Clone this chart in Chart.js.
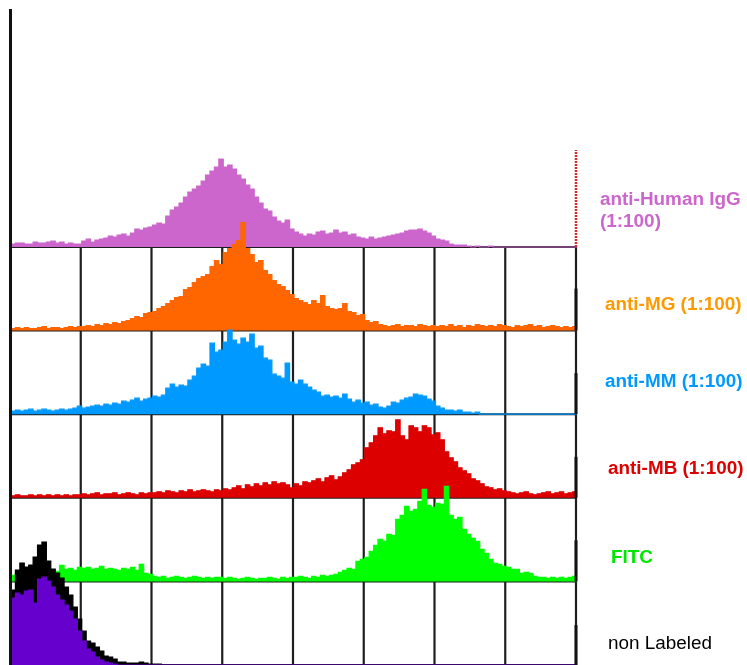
<!DOCTYPE html>
<html>
<head>
<meta charset="utf-8">
<script src="https://cdn.jsdelivr.net/npm/chart.js@4/dist/chart.umd.min.js"></script>
<style>
  html, body { margin: 0; padding: 0; background: #ffffff; }
  canvas { display: block; }
</style>
</head>
<body>
<canvas id="overlay" width="747" height="665"></canvas>
<script>
// Fluorescence channels (256) binned by 2 -> 128 bins per histogram
const CHANNELS = 256;
const BIN = 2;
const gridChannels = [0, 32, 64, 96, 128, 160, 192, 224, 256];

const rowLabels = [
  ['anti-Human IgG', '(1:100)'],
  ['anti-MG (1:100)'],
  ['anti-MM (1:100)'],
  ['anti-MB (1:100)'],
  ['FITC'],
  ['non Labeled']
];

// event counts per bin
const antiHumanIgG = [
  3, 4, 4, 3, 3, 5, 4, 4, 5, 6, 4, 5, 3, 4, 3, 3,
  6, 8, 5, 7, 8, 9, 11, 10, 12, 13, 11, 14, 18, 17, 19, 20,
  22, 24, 23, 31, 37, 40, 44, 50, 55, 58, 61, 66, 72, 76, 80, 88,
  80, 82, 78, 72, 68, 62, 58, 50, 44, 38, 36, 30, 26, 24, 27, 18,
  15, 13, 11, 13, 12, 15, 16, 13, 14, 17, 14, 15, 12, 13, 10, 9,
  8, 10, 8, 9, 10, 11, 12, 13, 14, 16, 17, 17, 18, 16, 14, 11,
  8, 7, 6, 3, 2, 2, 2, 1, 0, 1, 0, 0, 1, 0, 0, 0,
  0, 0, 0, 0, 0, 0, 0, 0, 0, 0, 0, 0, 0, 0, 0, 0
];
const antiMG = [
  2, 3, 2, 3, 2, 2, 3, 4, 2, 3, 3, 2, 3, 4, 3, 4,
  4, 5, 4, 6, 5, 7, 6, 8, 7, 9, 10, 12, 14, 13, 17, 18,
  19, 22, 24, 27, 30, 33, 34, 41, 43, 48, 52, 54, 56, 64, 70, 66,
  78, 82, 86, 90, 108, 82, 76, 68, 70, 60, 56, 50, 46, 44, 40, 36,
  32, 30, 28, 26, 30, 27, 35, 24, 22, 21, 22, 27, 19, 18, 15, 16,
  10, 8, 9, 6, 5, 4, 5, 6, 4, 5, 5, 4, 6, 5, 4, 5,
  4, 5, 4, 6, 4, 5, 3, 5, 4, 6, 5, 4, 5, 4, 6, 5,
  4, 3, 5, 4, 5, 6, 4, 5, 3, 4, 5, 4, 3, 4, 3, 4
];
const antiMM = [
  3, 4, 3, 4, 5, 3, 4, 5, 4, 3, 4, 5, 4, 5, 6, 8,
  6, 7, 8, 9, 8, 10, 9, 11, 10, 13, 12, 14, 16, 13, 15, 16,
  18, 17, 19, 26, 30, 27, 29, 28, 34, 38, 46, 50, 48, 71, 62, 64,
  72, 84, 74, 70, 76, 72, 80, 66, 68, 56, 54, 40, 38, 36, 51, 32,
  30, 34, 30, 27, 24, 22, 18, 19, 17, 18, 16, 20, 15, 12, 14, 11,
  12, 9, 10, 7, 6, 8, 12, 11, 14, 16, 17, 20, 19, 18, 15, 13,
  8, 6, 4, 4, 3, 4, 2, 2, 1, 2, 0, 0, 0, 0, 0, 0,
  0, 0, 0, 0, 0, 0, 0, 0, 0, 0, 0, 0, 0, 0, 0, 0
];
const antiMB = [
  2, 3, 2, 2, 3, 2, 3, 2, 3, 2, 3, 2, 3, 2, 3, 3,
  4, 3, 4, 5, 3, 4, 4, 5, 3, 4, 5, 4, 3, 5, 4, 5,
  5, 6, 5, 7, 6, 5, 7, 6, 8, 6, 7, 8, 7, 6, 8, 7,
  9, 8, 10, 12, 9, 13, 11, 14, 12, 15, 13, 16, 14, 15, 13, 10,
  14, 12, 16, 15, 17, 19, 16, 20, 22, 18, 21, 25, 28, 33, 35, 38,
  50, 55, 62, 70, 64, 67, 66, 78, 62, 58, 72, 70, 66, 72, 70, 63,
  65, 58, 46, 40, 36, 30, 27, 24, 19, 17, 14, 11, 10, 8, 9, 7,
  6, 5, 4, 5, 6, 4, 3, 4, 5, 6, 4, 5, 6, 4, 5, 6
];
const fitc = [
  6, 8, 5, 7, 7, 9, 8, 10, 9, 11, 10, 16, 12, 13, 11, 14,
  13, 14, 12, 13, 15, 12, 13, 12, 11, 13, 12, 14, 11, 17, 8, 7,
  5, 4, 5, 3, 4, 5, 4, 3, 4, 5, 4, 3, 4, 3, 4, 4,
  3, 4, 3, 2, 3, 4, 3, 2, 3, 3, 4, 3, 2, 4, 3, 4,
  4, 5, 4, 3, 5, 4, 6, 5, 6, 7, 9, 11, 13, 12, 20, 22,
  24, 30, 36, 42, 40, 47, 46, 62, 66, 75, 70, 72, 80, 92, 76, 74,
  78, 77, 95, 66, 62, 64, 52, 47, 43, 40, 32, 28, 22, 18, 17, 15,
  14, 12, 12, 8, 9, 8, 5, 4, 4, 3, 4, 3, 4, 3, 4, 5
];
const nonLabeledBlack = [
  75, 95, 102, 98, 100, 108, 120, 123, 104, 96, 92, 87, 78, 70, 58, 46,
  34, 24, 22, 18, 14, 9, 8, 6, 3, 3, 2, 2, 2, 3, 2, 1,
  1, 1, 0, 0, 0, 0, 0, 0, 0, 0, 0, 0, 0, 0, 0, 0,
  0, 0, 0, 0, 0, 0, 0, 0, 0, 0, 0, 0, 0, 0, 0, 0,
  0, 0, 0, 0, 0, 0, 0, 0, 0, 0, 0, 0, 0, 0, 0, 0,
  0, 0, 0, 0, 0, 0, 0, 0, 0, 0, 0, 0, 0, 0, 0, 0,
  0, 0, 0, 0, 0, 0, 0, 0, 0, 0, 0, 0, 0, 0, 0, 0,
  0, 0, 0, 0, 0, 0, 0, 0, 0, 0, 0, 0, 0, 0, 0, 0
];
const nonLabeledViolet = [
  67, 72, 70, 74, 75, 62, 86, 88, 84, 78, 70, 65, 60, 54, 46, 34,
  24, 16, 13, 8, 5, 3, 2, 1, 0, 0, 0, 0, 0, 0, 0, 0,
  0, 0, 0, 0, 0, 0, 0, 0, 0, 0, 0, 0, 0, 0, 0, 0,
  0, 0, 0, 0, 0, 0, 0, 0, 0, 0, 0, 0, 0, 0, 0, 0,
  0, 0, 0, 0, 0, 0, 0, 0, 0, 0, 0, 0, 0, 0, 0, 0,
  0, 0, 0, 0, 0, 0, 0, 0, 0, 0, 0, 0, 0, 0, 0, 0,
  0, 0, 0, 0, 0, 0, 0, 0, 0, 0, 0, 0, 0, 0, 0, 0,
  0, 0, 0, 0, 0, 0, 0, 0, 0, 0, 0, 0, 0, 0, 0, 0
];
// events piled up in the top channel of each row
const saturated = [97, 42, 41, 41, 41, 40];

// ---- styling ----
const rowAxes = ['yIgG', 'yMG', 'yMM', 'yMB', 'yFITC', 'yNL'];
const rowMax = [238, 83.6, 83.6, 83.6, 83.6, 83.6];
const fillColors = ['#cc66cc', '#ff6600', '#0099ff', '#dd0000', '#00ff00', '#6600cc'];
const labelColors = ['#cc66cc', '#ff9900', '#0099ff', '#dd0000', '#00e600', '#000000'];
const labelDx = [23, 28, 28, 31, 34, 31];
const labelLift = [36, 25, 32, 29, 23, 21];

const toPoints = arr => arr.map((v, i) => ({ x: i * BIN, y: v }))
  .concat([{ x: CHANNELS, y: arr[arr.length - 1] }]);

function hist(label, data, axis, color, border, order) {
  return {
    label, data: toPoints(data), yAxisID: axis, order,
    stepped: true, fill: 'origin', clip: false,
    backgroundColor: color, borderColor: border, borderWidth: 1.2,
    pointRadius: 0, tension: 0
  };
}

const datasets = [
  hist('non Labeled', nonLabeledViolet, 'yNL', '#6600cc', '#6600cc', 1),
  hist('non Labeled (total)', nonLabeledBlack, 'yNL', '#000000', '#000000', 2),
  hist('FITC', fitc, 'yFITC', fillColors[4], fillColors[4], 3),
  hist('anti-MB (1:100)', antiMB, 'yMB', fillColors[3], fillColors[3], 4),
  hist('anti-MM (1:100)', antiMM, 'yMM', fillColors[2], fillColors[2], 5),
  hist('anti-MG (1:100)', antiMG, 'yMG', fillColors[1], fillColors[1], 6),
  hist('anti-Human IgG (1:100)', antiHumanIgG, 'yIgG', fillColors[0], fillColors[0], 7)
];

const scales = {
  x: { type: 'linear', min: 0, max: CHANNELS, display: false }
};
rowAxes.forEach((id, i) => {
  scales[id] = {
    type: 'linear', position: 'left', display: false,
    min: 0, max: rowMax[i],
    stack: 'rows', stackWeight: rowMax[i] / rowMax[1],
    weight: rowAxes.length - i
  };
});

const frame = {
  id: 'frame',
  beforeDatasetsDraw(chart) {
    const { ctx, chartArea: a, scales: s } = chart;
    const topBase = s[rowAxes[0]].getPixelForValue(0);
    ctx.save();
    ctx.strokeStyle = '#1e1e1e';
    ctx.lineWidth = 2.2;
    gridChannels.slice(1).forEach(v => {
      const px = s.x.getPixelForValue(v) - 1;
      ctx.beginPath();
      ctx.moveTo(px, topBase);
      ctx.lineTo(px, a.bottom);
      ctx.stroke();
    });
    ctx.lineWidth = 2;
    rowAxes.forEach(id => {
      const py = s[id].getPixelForValue(0);
      ctx.beginPath();
      ctx.moveTo(a.left, py);
      ctx.lineTo(a.right, py);
      ctx.stroke();
    });
    ctx.restore();
  },
  afterDatasetsDraw(chart) {
    const { ctx, chartArea: a, scales: s } = chart;
    ctx.save();
    // left axis
    ctx.strokeStyle = '#111111';
    ctx.lineWidth = 3;
    ctx.beginPath();
    ctx.moveTo(a.left - 0.5, a.top);
    ctx.lineTo(a.left - 0.5, a.bottom);
    ctx.stroke();
    // top-channel pile-up of each row
    const px = s.x.getPixelForValue(CHANNELS) - 1;
    rowAxes.forEach((id, i) => {
      const y0 = s[id].getPixelForValue(0);
      const y1 = s[id].getPixelForValue(saturated[i]);
      ctx.beginPath();
      if (i === 0) {
        ctx.strokeStyle = '#d42a2a';
        ctx.lineWidth = 2.5;
        ctx.setLineDash([2, 1]);
      } else {
        ctx.strokeStyle = '#111111';
        ctx.lineWidth = 3;
        ctx.setLineDash([]);
      }
      ctx.moveTo(px, y0);
      ctx.lineTo(px, y1);
      ctx.stroke();
    });
    ctx.setLineDash([]);
    // row labels
    ctx.textBaseline = 'middle';
    ctx.textAlign = 'left';
    rowAxes.forEach((id, i) => {
      const lines = rowLabels[i];
      const base = s[id].getPixelForValue(0);
      const cy = base - labelLift[i];
      const lh = 22;
      ctx.fillStyle = labelColors[i];
      ctx.font = (i === 5 ? '' : 'bold ') + '17.5px "Liberation Sans", Arial, sans-serif';
      lines.forEach((t, k) => {
        const y = cy + (k - (lines.length - 1) / 2) * lh;
        ctx.save();
        ctx.translate(a.right + labelDx[i], y);
        ctx.scale(1.08, 1);
        ctx.fillText(t, 0, 0);
        ctx.restore();
      });
    });
    ctx.restore();
  }
};

new Chart(document.getElementById('overlay'), {
  type: 'line',
  data: { datasets },
  options: {
    responsive: false,
    animation: false,
    events: [],
    layout: { padding: { left: 11, right: 170, top: 9, bottom: 0 } },
    scales,
    plugins: {
      legend: { display: false },
      tooltip: { enabled: false }
    }
  },
  plugins: [frame]
});
</script>
</body>
</html>
